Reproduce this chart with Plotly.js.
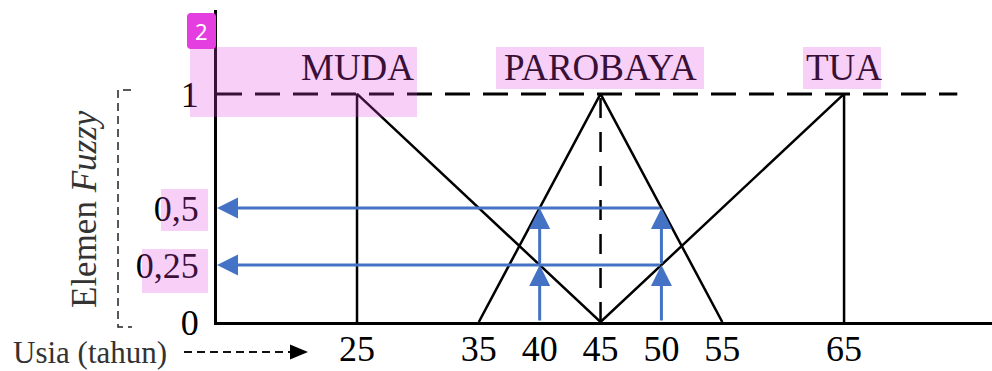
<!DOCTYPE html>
<html>
<head>
<meta charset="utf-8">
<script src="https://cdn.plot.ly/plotly-3.0.1.min.js"></script>
<style>html,body{margin:0;padding:0;background:#fff;}#chart{width:992px;height:371px;}</style>
</head>
<body>
<div id="chart"></div>
<script>
// ---- data ----
const ageTicks = [25, 35, 40, 45, 50, 55, 65];
const ageTickText = ['25', '35', '40', '45', '50', '55', '65'];
const memberTicks = [0, 0.25, 0.5, 1];
const memberTickText = ['0', '0,25', '0,5', '1'];

const setNames = ['MUDA', 'PAROBAYA', 'TUA'];
const setPeaks = [25, 45, 65];

const mudaX = [25, 25, 45];
const mudaY = [0, 1, 0];
const parobayaX = [35, 45, 55];
const parobayaY = [0, 1, 0];
const tuaX = [45, 65, 65];
const tuaY = [0, 1, 0];

const peakLineX = [45, 45];
const peakLineY = [0, 1];

const inputAges = [40, 50];
const memberships = [0.25, 0.5];

const xAxisTitle = 'Usia (tahun)';
const yAxisTitle = 'Elemen <i>Fuzzy</i>';

// ---- layout helpers ----
const L = 217, R = 992, T = 10, B = 322;
const xRange = [13.5, 77.15];
const yRange = [0, 1.368];
const topDashEnd = 74.3;
const labelY = 1.118;
const px = x => (x - L) / (R - L);
const py = y => (B - y) / (B - T);

const serif = '"Liberation Serif", "Times New Roman", serif';
const blue = '#4472C4';

const blackLine = {color: '#000', width: 2.5};
const traces = [
  {x: mudaX, y: mudaY, mode: 'lines', line: blackLine, hoverinfo: 'skip'},
  {x: parobayaX, y: parobayaY, mode: 'lines', line: blackLine, hoverinfo: 'skip'},
  {x: tuaX, y: tuaY, mode: 'lines', line: blackLine, hoverinfo: 'skip'},
  {x: [xRange[0], topDashEnd], y: [1, 1], mode: 'lines', line: {color: '#000', width: 3, dash: '25px,13px'}, hoverinfo: 'skip'},
  {x: peakLineX, y: peakLineY, mode: 'lines', line: {color: '#000', width: 2.5, dash: '20px,14px'}, hoverinfo: 'skip'}
];

const annotations = [];
// category labels
setNames.forEach((n, i) => {
  annotations.push({x: setPeaks[i], y: labelY, xref: 'x', yref: 'y', text: n, showarrow: false,
    font: {family: serif, size: 37, color: 'rgb(57,16,56)'}, xanchor: 'center', yanchor: 'middle'});
});
// blue arrows
const maxAge = Math.max(...inputAges);
memberships.forEach(m => {
  annotations.push({x: xRange[0], y: m, ax: maxAge, ay: m, xref: 'x', yref: 'y', axref: 'x', ayref: 'y',
    text: '', showarrow: true, arrowhead: 2, arrowsize: 1.4, arrowwidth: 3, arrowcolor: blue, standoff: 0});
});
inputAges.forEach(a => {
  let prev = 0;
  memberships.forEach(m => {
    annotations.push({x: a, y: m, ax: a, ay: prev, xref: 'x', yref: 'y', axref: 'x', ayref: 'y',
      text: '', showarrow: true, arrowhead: 2, arrowsize: 1.4, arrowwidth: 3, arrowcolor: blue, standoff: 0});
    prev = m;
  });
});
// axis titles
annotations.push({x: px(90), y: py(352), xref: 'paper', yref: 'paper', text: xAxisTitle, showarrow: false,
  font: {family: serif, size: 31, color: '#333'}, xanchor: 'center', yanchor: 'middle'});
annotations.push({x: px(84), y: py(209), xref: 'paper', yref: 'paper', text: yAxisTitle, showarrow: false,
  textangle: -90, font: {family: serif, size: 35, color: '#333'}, xanchor: 'center', yanchor: 'middle'});
// badge
annotations.push({x: px(201.5), y: py(31), xref: 'paper', yref: 'paper', text: '2', showarrow: false,
  font: {family: '"Noto Sans", sans-serif', size: 22, color: '#fff'}, xanchor: 'center', yanchor: 'middle'});

function rectP(x0, y0, x1, y1) { return {x0: px(x0), x1: px(x1), y0: py(y1), y1: py(y0)}; }
function roundRectPath(x0, y0, x1, y1, r) {
  const p = (x, y) => px(x) + ',' + py(y);
  return 'M' + p(x0 + r, y0) + ' L' + p(x1 - r, y0) + ' Q' + p(x1, y0) + ' ' + p(x1, y0 + r) +
    ' L' + p(x1, y1 - r) + ' Q' + p(x1, y1) + ' ' + p(x1 - r, y1) +
    ' L' + p(x0 + r, y1) + ' Q' + p(x0, y1) + ' ' + p(x0, y1 - r) +
    ' L' + p(x0, y0 + r) + ' Q' + p(x0, y0) + ' ' + p(x0 + r, y0) + ' Z';
}
function pathP(pts) {
  return pts.map((q, i) => (i ? 'L' : 'M') + px(q[0]) + ',' + py(q[1])).join(' ');
}

const hl = 'rgba(229,62,224,0.25)';
const shapes = [
  {type: 'path', xref: 'paper', yref: 'paper', path: pathP([[131, 90], [118, 90], [118, 327], [132, 327]]),
    line: {color: '#222', width: 1.5, dash: '8px,5px'}},
  Object.assign({type: 'line', xref: 'paper', yref: 'paper', line: {color: '#111', width: 2, dash: '8px,5px'}},
    {x0: px(184), x1: px(292), y0: py(352), y1: py(352)}),
  {type: 'path', xref: 'paper', yref: 'paper', path: pathP([[290, 344.5], [308, 352], [290, 359.5]]) + ' Z',
    fillcolor: '#000', line: {width: 0}},
  Object.assign({type: 'rect', xref: 'paper', yref: 'paper', layer: 'above', fillcolor: hl, line: {width: 0}}, rectP(190, 47, 417, 117)),
  Object.assign({type: 'rect', xref: 'paper', yref: 'paper', layer: 'above', fillcolor: hl, line: {width: 0}}, rectP(496, 47, 704, 89)),
  Object.assign({type: 'rect', xref: 'paper', yref: 'paper', layer: 'above', fillcolor: hl, line: {width: 0}}, rectP(803, 47, 881, 89)),
  Object.assign({type: 'rect', xref: 'paper', yref: 'paper', layer: 'above', fillcolor: hl, line: {width: 0}}, rectP(161, 189, 208, 231)),
  Object.assign({type: 'rect', xref: 'paper', yref: 'paper', layer: 'above', fillcolor: hl, line: {width: 0}}, rectP(142, 249, 208, 293)),
  {type: 'path', xref: 'paper', yref: 'paper', layer: 'above', path: roundRectPath(187, 13, 216, 49, 4),
    fillcolor: '#e53ee0', line: {width: 0}}
];

const layout = {
  width: 992, height: 371,
  margin: {l: L, r: 992 - R, t: T, b: 371 - B, pad: 0},
  paper_bgcolor: '#fff', plot_bgcolor: '#fff',
  showlegend: false,
  xaxis: {range: xRange, showgrid: false, zeroline: false, showline: true, linecolor: '#000', linewidth: 3,
    tickvals: ageTicks, ticktext: ageTickText, ticks: '', ticklabelstandoff: -7,
    tickfont: {family: serif, size: 36, color: '#000'}, fixedrange: true},
  yaxis: {range: yRange, showgrid: false, zeroline: false, showline: true, linecolor: '#000', linewidth: 3,
    tickvals: memberTicks, ticktext: memberTickText, ticks: '', ticklabelstandoff: 8,
    tickfont: {family: serif, size: 36, color: '#000'}, fixedrange: true},
  annotations: annotations,
  shapes: shapes
};

Plotly.newPlot('chart', traces, layout, {displayModeBar: false, staticPlot: true});
</script>
</body>
</html>
